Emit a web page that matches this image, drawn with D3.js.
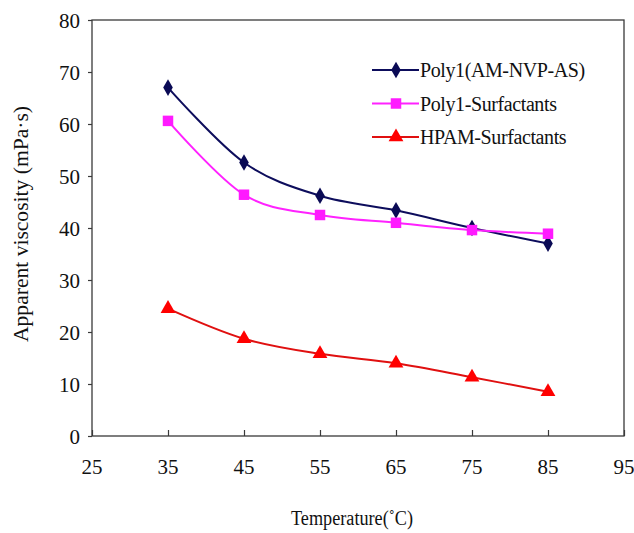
<!DOCTYPE html>
<html>
<head>
<meta charset="utf-8">
<script src="https://cdn.jsdelivr.net/npm/d3@7"></script>
</head>
<body style="margin:0">
<svg id="chart" width="634" height="533"></svg>
<script>
// Temperature sweep (°C)
const temperatures = [35, 45, 55, 65, 75, 85];

// Apparent viscosity (mPa·s) for each formulation
const poly1Values = [67.0, 52.6, 46.2, 43.4, 40.0, 37.0];
const poly1SurfValues = [60.6, 46.4, 42.5, 41.0, 39.6, 38.9];
const hpamSurfValues = [24.5, 18.7, 15.8, 14.0, 11.3, 8.5];

const seriesNames = ["Poly1(AM-NVP-AS)", "Poly1-Surfactants", "HPAM-Surfactants"];
const xTicks = [25, 35, 45, 55, 65, 75, 85, 95];
const yTicks = [0, 10, 20, 30, 40, 50, 60, 70, 80];

const FONT = "'Liberation Serif'";
const svg = d3.select("#chart");
const plot = { left: 92, right: 624, top: 20, bottom: 436 };

const x = d3.scaleLinear().domain([25, 95]).range([plot.left, plot.right]);
const y = d3.scaleLinear().domain([0, 80]).range([plot.bottom, plot.top]);

const axisColor = "#3a3a3a";

// Frame around the plotting area
svg.append("rect")
  .attr("x", plot.left).attr("y", plot.top)
  .attr("width", plot.right - plot.left).attr("height", plot.bottom - plot.top)
  .attr("fill", "none").attr("stroke", axisColor).attr("stroke-width", 1.3);

// Y axis: short outward ticks
svg.append("g")
  .attr("transform", `translate(${plot.left},0)`)
  .call(d3.axisLeft(y).tickValues(yTicks).tickSize(4).tickFormat(""))
  .call(g => g.select(".domain").remove())
  .call(g => g.selectAll(".tick line").attr("stroke", axisColor).attr("stroke-width", 1.2));

// Y tick labels
svg.append("g").selectAll("text")
  .data(yTicks)
  .join("text")
  .attr("x", plot.left - 12)
  .attr("y", d => y(d) + 8)
  .attr("text-anchor", "end")
  .attr("font-family", FONT).attr("font-size", 21).attr("fill", "#111")
  .text(d => d);

// X axis: ticks point into the plot
svg.append("g")
  .attr("transform", `translate(0,${plot.bottom})`)
  .call(d3.axisBottom(x).tickValues(xTicks).tickSize(-6).tickFormat(""))
  .call(g => g.select(".domain").remove())
  .call(g => g.selectAll(".tick line").attr("stroke", axisColor).attr("stroke-width", 1.2));

// X tick labels
svg.append("g").selectAll("text")
  .data(xTicks)
  .join("text")
  .attr("x", d => x(d))
  .attr("y", plot.bottom + 38)
  .attr("text-anchor", "middle")
  .attr("font-family", FONT).attr("font-size", 21).attr("fill", "#111")
  .text(d => d);

// Axis titles
svg.append("text")
  .attr("transform", `translate(28,224) rotate(-90)`)
  .attr("text-anchor", "middle")
  .attr("font-family", FONT).attr("font-size", 20).attr("fill", "#111")
  .attr("textLength", 236).attr("lengthAdjust", "spacingAndGlyphs")
  .text("Apparent viscosity (mPa·s)");

svg.append("text")
  .attr("x", 352).attr("y", 525)
  .attr("text-anchor", "middle")
  .attr("font-family", FONT).attr("font-size", 20).attr("fill", "#111")
  .attr("textLength", 122).attr("lengthAdjust", "spacingAndGlyphs")
  .text("Temperature(˚C)");

// Series definitions
const series = [
  { name: seriesNames[0], values: poly1Values, line: "#0d0d5c", fill: "#0a0a55", symbol: d3.symbolDiamond, size: 80 },
  { name: seriesNames[1], values: poly1SurfValues, line: "#ff22ff", fill: "#ff1aff", symbol: d3.symbolSquare, size: 110 },
  { name: seriesNames[2], values: hpamSurfValues, line: "#e01010", fill: "#ff0000", symbol: d3.symbolTriangle, size: 95 }
];

const line = d3.line()
  .x(d => x(d[0]))
  .y(d => y(d[1]))
  .curve(d3.curveCardinal.tension(0));

series.forEach(s => {
  const pts = temperatures.map((t, i) => [t, s.values[i]]);
  svg.append("path")
    .datum(pts)
    .attr("d", line)
    .attr("fill", "none")
    .attr("stroke", s.line)
    .attr("stroke-width", 2);

  svg.append("g").selectAll("path")
    .data(pts)
    .join("path")
    .attr("transform", d => `translate(${x(d[0])},${y(d[1])})`)
    .attr("d", d3.symbol().type(s.symbol).size(s.size))
    .attr("fill", s.fill);
});

// Legend
const legendRows = [70, 103.5, 137];
series.forEach((s, i) => {
  const ly = legendRows[i];
  svg.append("line")
    .attr("x1", 372).attr("x2", 419).attr("y1", ly).attr("y2", ly)
    .attr("stroke", s.line).attr("stroke-width", 2);
  svg.append("path")
    .attr("transform", `translate(396,${ly})`)
    .attr("d", d3.symbol().type(s.symbol).size(s.size))
    .attr("fill", s.fill);
  svg.append("text")
    .attr("x", 420).attr("y", ly + 7)
    .attr("font-family", FONT).attr("font-size", 20).attr("fill", "#111")
    .attr("letter-spacing", -0.4)
    .text(s.name);
});
</script>
</body>
</html>
